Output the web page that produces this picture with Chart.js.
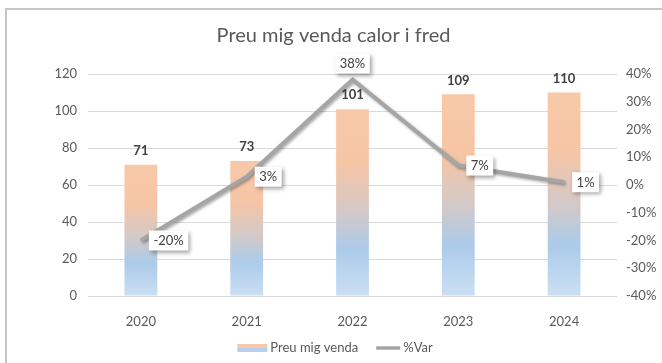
<!DOCTYPE html>
<html>
<head>
<meta charset="utf-8">
<script src="https://cdn.jsdelivr.net/npm/chart.js@4.4.1/dist/chart.umd.min.js"></script>
<style>
    html, body { margin: 0; padding: 0; background: #fff; }
    #wrap { width: 662px; height: 363px; }
</style>
</head>
<body>
<div id="wrap"><canvas id="chart" width="662" height="363"></canvas></div>
<script>
'use strict';

var years = ['2020', '2021', '2022', '2023', '2024'];
var preuMig = [71, 73, 101, 109, 110];
var varPct = [-20, 3, 38, 7, 1];

var FONT = 'Lato, "Open Sans", sans-serif';
var TEXT = '#595959';
var LABEL = '#404040';
var GRID = '#d9d9d9';
var LINE = '#a5a5a5';

// peach at the top of each bar fading to light blue at its base
function barGradient(context) {
    var chart = context.chart;
    if (!chart.chartArea) {
        return '#f7c7a7';
    }
    var y = chart.scales.y;
    var top = y.getPixelForValue(context.raw);
    var bottom = y.getPixelForValue(0);
    var g = chart.ctx.createLinearGradient(0, top, 0, bottom);
    g.addColorStop(0, '#f8c9a9');
    g.addColorStop(0.3, '#f5c5a6');
    g.addColorStop(0.55, '#d3c9c8');
    g.addColorStop(0.75, '#abcbea');
    g.addColorStop(1, '#cbdff3');
    return g;
}

// left/top frame line
var framePlugin = {
    id: 'frame',
    beforeDraw: function (chart) {
        var ctx = chart.ctx;
        ctx.save();
        ctx.strokeStyle = '#c6c6c6';
        ctx.lineWidth = 2;
        ctx.beginPath();
        ctx.moveTo(6, chart.height);
        ctx.lineTo(6, 9);
        ctx.lineTo(chart.width, 9);
        ctx.stroke();
        ctx.restore();
    },
};

// drop shadow under the %Var line
var lineShadow = {
    id: 'lineShadow',
    beforeDatasetDraw: function (chart, args) {
        if (args.meta.type !== 'line') {
            return;
        }
        var ctx = chart.ctx;
        ctx.save();
        ctx.shadowColor = 'rgba(0, 0, 0, 0.35)';
        ctx.shadowBlur = 3;
        ctx.shadowOffsetX = 1.5;
        ctx.shadowOffsetY = 1.5;
    },
    afterDatasetDraw: function (chart, args) {
        if (args.meta.type === 'line') {
            chart.ctx.restore();
        }
    },
};

// value labels above the bars, boxed percentages next to the line points
var labelsPlugin = {
    id: 'valueLabels',
    afterDatasetsDraw: function (chart) {
        var ctx = chart.ctx;
        var bars = chart.getDatasetMeta(0).data;
        var points = chart.getDatasetMeta(1).data;
        var maxPct = Math.max.apply(null, varPct);

        ctx.save();
        ctx.font = 'bold 13px ' + FONT;
        ctx.fillStyle = LABEL;
        ctx.textAlign = 'center';
        ctx.textBaseline = 'middle';
        bars.forEach(function (bar, i) {
            ctx.fillText(String(preuMig[i]), bar.x, bar.y - 14);
        });

        ctx.font = '13px ' + FONT;
        points.forEach(function (pt, i) {
            var text = varPct[i] + '%';
            var w = ctx.measureText(text).width + 9;
            var h = 20;
            var bx, by;
            if (varPct[i] === maxPct) {
                bx = pt.x - w / 2;
                by = pt.y - 16 - h / 2;
            } else {
                bx = pt.x + 8;
                by = pt.y - h / 2;
            }
            ctx.save();
            ctx.shadowColor = 'rgba(0, 0, 0, 0.35)';
            ctx.shadowBlur = 4;
            ctx.shadowOffsetX = 2;
            ctx.shadowOffsetY = 2;
            ctx.fillStyle = '#ffffff';
            ctx.fillRect(bx, by, w, h);
            ctx.restore();
            ctx.fillStyle = LABEL;
            ctx.fillText(text, bx + w / 2, by + h / 2 + 0.5);
        });
        ctx.restore();
    },
};

// legend row at the bottom
var legendPlugin = {
    id: 'bottomLegend',
    afterDraw: function (chart) {
        var ctx = chart.ctx;
        var y = 348;
        ctx.save();
        ctx.font = '13px ' + FONT;
        ctx.textBaseline = 'middle';
        ctx.textAlign = 'left';
        var t1 = chart.data.datasets[0].label;
        var t2 = chart.data.datasets[1].label;
        var w1 = ctx.measureText(t1).width;
        var w2 = ctx.measureText(t2).width;
        var total = 30 + 3 + w1 + 18 + 24 + 3 + w2;
        var x = (chart.width - total) / 2 + 4;

        ctx.fillStyle = '#f7c9aa';
        ctx.fillRect(x, y - 4, 30, 4);
        ctx.fillStyle = '#b4d0ec';
        ctx.fillRect(x, y, 30, 4);
        x += 33;
        ctx.fillStyle = TEXT;
        ctx.fillText(t1, x, y);
        x += w1 + 18;

        ctx.strokeStyle = LINE;
        ctx.lineWidth = 3.5;
        ctx.beginPath();
        ctx.moveTo(x, y);
        ctx.lineTo(x + 24, y);
        ctx.stroke();
        x += 27;
        ctx.fillText(t2, x, y);
        ctx.restore();
    },
};

new Chart(document.getElementById('chart'), {
    type: 'bar',
    data: {
        labels: years,
        datasets: [{
            type: 'bar',
            label: 'Preu mig venda',
            data: preuMig,
            yAxisID: 'y',
            backgroundColor: barGradient,
            categoryPercentage: 1,
            barPercentage: 0.31,
            order: 2,
        }, {
            type: 'line',
            label: '%Var',
            data: varPct,
            yAxisID: 'y1',
            borderColor: LINE,
            borderWidth: 4,
            pointRadius: 0,
            tension: 0,
            order: 1,
        }]
    },
    options: {
        responsive: false,
        animation: false,
        layout: {
            padding: { left: 5, right: 0, top: 0, bottom: 27 },
        },
        plugins: {
            legend: { display: false },
            tooltip: { enabled: false },
            title: {
                display: true,
                text: 'Preu mig venda calor i fred',
                color: TEXT,
                font: { family: FONT, size: 20, weight: 'normal' },
                padding: { top: 24, bottom: 26 },
            },
        },
        scales: {
            x: {
                grid: { display: false, drawTicks: false },
                border: { display: false },
                ticks: { color: TEXT, font: { family: FONT, size: 13 }, padding: 18 },
                afterFit: function (scale) { scale.height = 40; },
            },
            y: {
                position: 'left',
                min: 0,
                max: 120,
                grid: { color: GRID, drawTicks: false },
                border: { display: false },
                ticks: { stepSize: 20, color: TEXT, font: { family: FONT, size: 13 }, padding: 11 },
                afterFit: function (scale) { scale.width = 83; },
            },
            y1: {
                position: 'right',
                min: -40,
                max: 40,
                grid: { display: false, drawTicks: false },
                border: { display: false },
                ticks: {
                    stepSize: 10,
                    color: TEXT,
                    font: { family: FONT, size: 13 },
                    padding: 9,
                    callback: function (v) { return v + '%'; },
                },
                afterFit: function (scale) { scale.width = 45; },
            },
        },
    },
    plugins: [framePlugin, lineShadow, labelsPlugin, legendPlugin],
});
</script>
</body>
</html>
